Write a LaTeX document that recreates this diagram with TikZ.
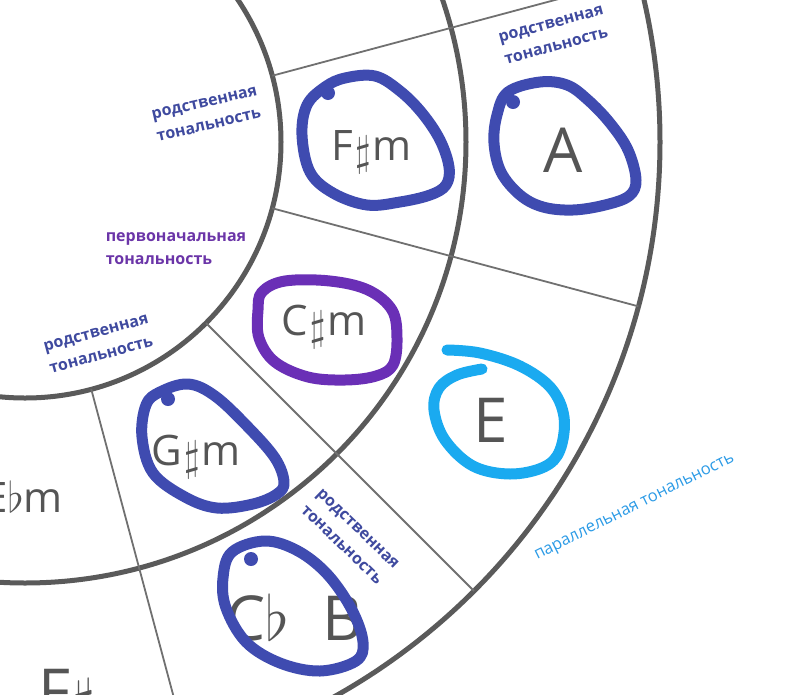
\documentclass[tikz,border=0pt]{standalone}
\usepackage{fontspec}
\setmainfont{Open Sans}
\usetikzlibrary{calc}
\definecolor{ringc}{HTML}{5A5A5A}
\definecolor{divc}{HTML}{707070}
\definecolor{keyc}{HTML}{555555}
\definecolor{loopblue}{HTML}{3F4BB0}
\definecolor{looppurple}{HTML}{6A2FB6}
\definecolor{looplight}{HTML}{1AAAF0}
\definecolor{labblue}{HTML}{3F4A9F}
\definecolor{labpurple}{HTML}{6B35A8}
\definecolor{lablight}{HTML}{2C9BE6}
\newcommand{\shp}[1]{\kern2pt\raisebox{-0.12em}{\scalebox{#1}{$\sharp$}}\kern2pt}
\newcommand{\flt}[1]{\scalebox{#1}{$\flat$}}
\begin{document}
\begin{tikzpicture}[x=1pt,y=-1pt,
  ringline/.style={draw=ringc,line width=5pt},
  divline/.style={draw=divc,line width=1.8pt},
  minorkey/.style={inner sep=0pt,anchor=base west,text=keyc,font=\fontsize{42}{42}\selectfont},
  majorkey/.style={inner sep=0pt,anchor=base west,text=keyc,font=\fontsize{62}{62}\selectfont},
  rellab/.style={text=labblue,font=\bfseries\fontsize{16}{23}\selectfont,align=left,inner sep=0pt},
  hand/.style={line width=11pt,line cap=round,line join=round},
]
\useasboundingbox (0,0) rectangle (793,694);
\clip (0,0) rectangle (793,694);
\coordinate (C) at (25,142);
% rings
\draw[ringline] (C) circle[radius=256];
\draw[ringline] (C) circle[radius=441];
\draw[ringline] (C) circle[radius=635];
% dividers
\foreach \a in {-15,15,45,75}{
  \coordinate (in\a) at ($(C)+(\a:256)$);
  \coordinate (out\a) at ($(C)+(\a:635)$);
  \draw[divline] (in\a) -- (out\a);
}
% keys
\node[minorkey] (fsm) at (331,160) {F\shp{1.7}m};
\node[minorkey] (csm) at (281,335) {C\shp{1.7}m};
\node[minorkey] (gsm) at (151,465) {G\shp{1.7}m};
\node[minorkey,anchor=base east] (ebm) at (63,512) {E\flt{1.7}m};
\node[majorkey] (a) at (543,172) {A};
\node[majorkey] (e) at (473,442) {E};
\node[majorkey] (cb) at (226,640) {C\flt{2.5}};
\node[majorkey] (b) at (322,640) {B};
\node[majorkey] (fs) at (38,713) {F\shp{2.4}};
% hand-drawn loops
\draw[hand,loopblue] plot[smooth cycle,tension=0.6] coordinates {(325,87) (345,78) (375,76) (400,91) (422,113) (440,140) (449,167) (446,185) (430,195) (400,202) (367,205) (333,193) (310,172) (302,135) (307,105)};
\fill[loopblue] (328,93) circle[radius=7];
\draw[hand,loopblue] plot[smooth cycle,tension=0.6] coordinates {(508,92) (540,82) (567,85) (588,100) (610,123) (628,150) (636,180) (629,196) (605,205) (573,210) (543,207) (520,195) (501,172) (494,143) (497,115)};
\fill[loopblue] (513,102) circle[radius=7];
\draw[hand,looppurple] plot[smooth cycle,tension=0.6] coordinates {(262,292) (285,281) (330,281) (368,290) (392,310) (397,338) (393,365) (376,376) (345,380) (308,377) (275,362) (259,338) (258,310)};
\draw[hand,loopblue] plot[smooth cycle,tension=0.6] coordinates {(160,392) (188,384) (215,396) (248,427) (275,458) (284,482) (277,494) (253,504) (217,508) (185,497) (153,473) (142,437) (146,405)};
\fill[loopblue] (168,399) circle[radius=7];
\draw[hand,loopblue] plot[smooth cycle,tension=0.6] coordinates {(232,552) (265,541) (298,551) (328,575) (352,610) (363,642) (356,661) (320,671) (280,663) (246,642) (226,608) (223,578)};
\fill[loopblue] (251,559) circle[radius=7];
\draw[hand,looplight] plot[smooth,tension=0.6] coordinates {(447,350) (480,353) (520,366) (551,388) (564,417) (560,450) (544,467) (510,474) (473,466) (445,440) (434,410) (439,388) (457,375) (482,369)};
% labels
\node[rellab,rotate=13] (r1) at (207,114) {родственная\\тональность};
\node[rellab,rotate=15] (r2) at (99,344) {родственная\\тональность};
\node[rellab,rotate=15] (r3) at (554,35) {родственная\\тональность};
\node[rellab,rotate=-44] (r4) at (350,537) {родственная\\тональность};
\node[rellab,text=labpurple] (orig) at (176,249) {первоначальная\\тональность};
\node[text=lablight,font=\fontsize{16.5}{20}\selectfont,rotate=26.6,inner sep=0pt] (par) at (635,508) {параллельная тональность};
\end{tikzpicture}
\end{document}
